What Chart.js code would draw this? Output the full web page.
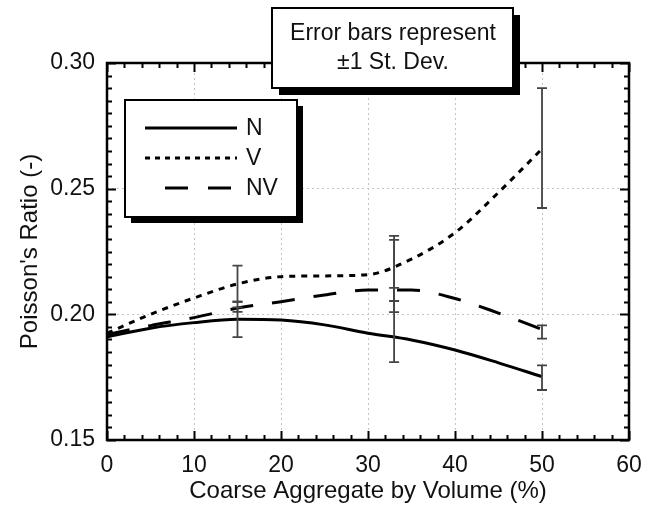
<!DOCTYPE html>
<html><head><meta charset="utf-8">
<script src="https://cdn.jsdelivr.net/npm/chart.js@4"></script>
<style>html,body{margin:0;padding:0;background:#fff;overflow:hidden}#wrap{width:661px;height:508px}</style>
</head><body><div id="wrap"><canvas id="c" width="661" height="508"></canvas></div>
<script>
// ---- data ----
const xValues = [0, 5, 10, 15, 20, 25, 30, 35, 40, 45, 50];
const seriesN  = [0.191, 0.1945, 0.1967, 0.198, 0.1977, 0.1958, 0.1925, 0.1898, 0.1858, 0.1807, 0.1752];
const seriesV  = [0.1925, 0.2, 0.2065, 0.2121, 0.215, 0.2153, 0.2158, 0.222, 0.2325, 0.2485, 0.2658];
const seriesNV = [0.192, 0.1955, 0.1987, 0.2025, 0.205, 0.2077, 0.2097, 0.2097, 0.2063, 0.2005, 0.194];
const seriesLabels = ['N', 'V', 'NV'];

const errX = [15, 33, 50];
const errNLow  = [0.1909, 0.181, 0.1699];
const errNHigh = [0.205, 0.2105, 0.1797];
const errVLow  = [0.205, 0.2053, 0.2423];
const errVHigh = [0.2194, 0.2312, 0.290];
const errNVLow  = [0.201, 0.2009, 0.1903];
const errNVHigh = [0.2028, 0.2296, 0.1956];

const xTickValues = [0, 10, 20, 30, 40, 50, 60];
const xTickLabels = ['0', '10', '20', '30', '40', '50', '60'];
const yTickValues = [0.15, 0.20, 0.25, 0.30];
const yTickLabels = ['0.15', '0.20', '0.25', '0.30'];
const noteLines = ['Error bars represent', '\u00B11 St. Dev.'];
const xTitle = 'Coarse Aggregate by Volume (%)';
const yTitle = "Poisson's Ratio (-)";

const FONT = "'Liberation Sans', Arial, sans-serif";

function pts(ys) { return xValues.map((x, i) => ({ x: x, y: ys[i] })); }

const errorBars = {
  id: 'errorBars',
  afterDatasetsDraw(chart) {
    const ctx = chart.ctx, xs = chart.scales.x, ys = chart.scales.y;
    const sets = [[errNLow, errNHigh], [errVLow, errVHigh], [errNVLow, errNVHigh]];
    ctx.save();
    ctx.strokeStyle = '#444';
    ctx.lineWidth = 1.8;
    sets.forEach(([lo, hi]) => {
      errX.forEach((xv, i) => {
        const px = xs.getPixelForValue(xv);
        const y1 = ys.getPixelForValue(lo[i]), y2 = ys.getPixelForValue(hi[i]);
        ctx.beginPath();
        ctx.moveTo(px, y1); ctx.lineTo(px, y2);
        ctx.moveTo(px - 5, y1); ctx.lineTo(px + 5, y1);
        ctx.moveTo(px - 5, y2); ctx.lineTo(px + 5, y2);
        ctx.stroke();
      });
    });
    ctx.restore();
  }
};

const frame = {
  id: 'frame',
  afterDraw(chart) {
    const ctx = chart.ctx, a = chart.chartArea, xs = chart.scales.x, ys = chart.scales.y;
    ctx.save();
    ctx.strokeStyle = '#000';
    ctx.lineWidth = 2;
    ctx.beginPath();
    for (let v = 0; v <= 60.001; v += 2) {
      const px = Math.round(xs.getPixelForValue(v)) + 0.5;
      const major = Math.abs(v / 10 - Math.round(v / 10)) < 1e-6;
      const L = major ? 9 : 5;
      ctx.moveTo(px, a.bottom); ctx.lineTo(px, a.bottom - L);
      ctx.moveTo(px, a.top); ctx.lineTo(px, a.top + L);
    }
    for (let k = 0; k <= 30; k++) {
      const v = 0.15 + k * 0.005;
      const py = Math.round(ys.getPixelForValue(v)) + 0.5;
      const L = (k % 10 === 0) ? 9 : 5;
      ctx.moveTo(a.left, py); ctx.lineTo(a.left + L, py);
      ctx.moveTo(a.right, py); ctx.lineTo(a.right - L, py);
    }
    ctx.stroke();
    ctx.lineWidth = 2.5;
    ctx.strokeRect(a.left, a.top, a.right - a.left, a.bottom - a.top);

    function shadowBox(x1, y1, x2, y2, s) {
      ctx.fillStyle = '#000';
      ctx.fillRect(x1 + s, y1 + s, x2 - x1, y2 - y1);
      ctx.fillStyle = '#fff';
      ctx.fillRect(x1, y1, x2 - x1, y2 - y1);
      ctx.lineWidth = 2;
      ctx.strokeStyle = '#000';
      ctx.strokeRect(x1, y1, x2 - x1, y2 - y1);
    }
    // note box
    shadowBox(272, 8, 513, 88, 7);
    ctx.fillStyle = '#111';
    ctx.font = '23px ' + FONT;
    ctx.textAlign = 'center';
    ctx.textBaseline = 'middle';
    ctx.fillText(noteLines[0], 393, 34);
    ctx.fillText(noteLines[1], 393, 63);

    // legend box
    shadowBox(125, 100, 297, 217, 6);
    const rows = [128, 158, 188];
    chart.data.datasets.forEach((ds, i) => {
      const y = rows[i];
      ctx.save();
      ctx.strokeStyle = '#000';
      ctx.lineWidth = 3;
      ctx.setLineDash(ds.legendDash || []);
      ctx.beginPath();
      ctx.moveTo(ds.legendStart, y); ctx.lineTo(237, y);
      ctx.stroke();
      ctx.restore();
      ctx.fillStyle = '#111';
      ctx.textAlign = 'left';
      ctx.fillText(ds.label, 246, y + 1);
    });
    ctx.restore();
  }
};

new Chart(document.getElementById('c'), {
  type: 'line',
  data: {
    datasets: [
      { label: seriesLabels[0], data: pts(seriesN), borderColor: '#000', borderWidth: 3, pointRadius: 0,
        cubicInterpolationMode: 'monotone', legendStart: 145 },
      { label: seriesLabels[1], data: pts(seriesV), borderColor: '#000', borderWidth: 3, pointRadius: 0,
        borderDash: [6, 6], cubicInterpolationMode: 'monotone', legendDash: [5, 5], legendStart: 145 },
      { label: seriesLabels[2], data: pts(seriesNV), borderColor: '#000', borderWidth: 3, pointRadius: 0,
        borderDash: [23, 19], cubicInterpolationMode: 'monotone', legendDash: [23, 20], legendStart: 165 }
    ]
  },
  options: {
    responsive: false,
    animation: false,
    layout: { padding: { top: 63, right: 32, left: 0, bottom: 0 } },
    plugins: { legend: { display: false }, tooltip: { enabled: false } },
    scales: {
      x: {
        type: 'linear', min: 0, max: 60,
        afterBuildTicks: s => { s.ticks = xTickValues.map(v => ({ value: v })); },
        afterFit: s => { s.height = 68; },
        ticks: { callback: (v, i) => xTickLabels[i], color: '#111', padding: 12,
                 font: { family: FONT, size: 23 }, maxRotation: 0, autoSkip: false },
        grid: { color: '#c4c4c4', lineWidth: 1, drawTicks: false },
        border: { display: false, dash: [2, 3] },
        title: { display: true, text: xTitle, color: '#111', font: { family: FONT, size: 24 },
                 padding: { top: 0, bottom: 2 } }
      },
      y: {
        type: 'linear', min: 0.15, max: 0.30,
        afterBuildTicks: s => { s.ticks = yTickValues.map(v => ({ value: v })); },
        afterFit: s => { s.width = 107; },
        ticks: { callback: (v, i) => yTickLabels[i], color: '#111', padding: 12,
                 font: { family: FONT, size: 23 }, autoSkip: false },
        grid: { color: '#c4c4c4', lineWidth: 1, drawTicks: false },
        border: { display: false, dash: [2, 3] },
        title: { display: true, text: yTitle, color: '#111', font: { family: FONT, size: 24 },
                 padding: { top: 16, bottom: 0 } }
      }
    }
  },
  plugins: [errorBars, frame]
});
</script>
</body></html>
